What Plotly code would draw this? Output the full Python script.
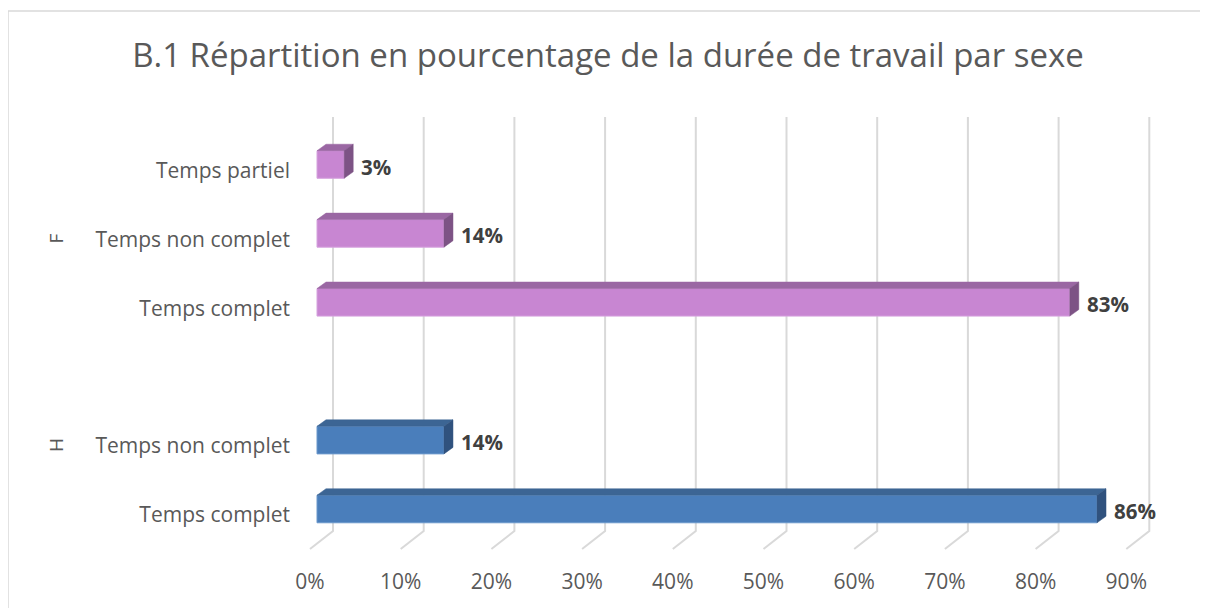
import plotly.graph_objects as go

# ---- data ----
categories = ["Temps complet", "Temps non complet", "Temps complet", "Temps non complet", "Temps partiel"]
groups = ["H", "H", "F", "F", "F"]
positions = [0, 1, 3, 4, 5]
values = [86, 14, 83, 14, 3]
group_labels = ["H", "F"]
group_label_pos = [1, 4]
x_ticks = [0, 10, 20, 30, 40, 50, 60, 70, 80, 90]
x_tick_labels = [f"{t}%" for t in x_ticks]
title = "B.1 Répartition en pourcentage de la durée de travail par sexe"

# ---- style ----
FONT = "Open Sans"
colors = {"H": ("#4a7ebb", "#3c6594", "#30527e", "#6a98cc"),
          "F": ("#c886d2", "#9a67a3", "#7d5385", "#d6a3de")}
OFF = 8                      # page body margin
FW, FH = 1200, 600           # figure size
# target geometry in screenshot pixels
L, R, T, B = 300, 1160, 110, 560
px_per_x = 9.07
px_per_y = 68.9
x0_px, y0_px = 317, 509
xr = [(L - x0_px) / px_per_x, (R - x0_px) / px_per_x]
yr = [(y0_px - B) / px_per_y, (y0_px - T) / px_per_y]

def dx(px):
    return px / px_per_x

def dy(px):
    return px / px_per_y

fig = go.Figure()

bar_h = 0.40
half = bar_h / 2
ddx, ddy = dx(9), dy(6.5)

# 3D faces
for g, p, v in zip(groups, positions, values):
    front, top, side, edge = colors[g]
    fig.add_trace(go.Scatter(
        x=[0, v, v + ddx, ddx, 0], y=[p + half, p + half, p + half + ddy, p + half + ddy, p + half],
        fill="toself", fillcolor=top, mode="lines", line=dict(color=top, width=0.5),
        hoverinfo="skip", showlegend=False))
    fig.add_trace(go.Scatter(
        x=[v, v + ddx, v + ddx, v, v], y=[p - half, p - half + ddy, p + half + ddy, p + half, p - half],
        fill="toself", fillcolor=side, mode="lines", line=dict(color=side, width=0.5),
        hoverinfo="skip", showlegend=False))

# front faces
for g in ["H", "F"]:
    idx = [i for i, gg in enumerate(groups) if gg == g]
    front, top, side, edge = colors[g]
    fig.add_trace(go.Bar(
        x=[values[i] for i in idx], y=[positions[i] for i in idx], orientation="h",
        width=bar_h, marker=dict(color=front, line=dict(color=edge, width=1)),
        showlegend=False, hoverinfo="skip"))

# data labels
for p, v in zip(positions, values):
    fig.add_annotation(x=v, y=p, text=f"<b>{v}%</b>", showarrow=False, xanchor="left",
                       xshift=15, yshift=-2, font=dict(family=FONT, size=20.5, color="#404040"))

# group labels
for gl, gp in zip(group_labels, group_label_pos):
    fig.add_annotation(x=(56 - L) / (R - L), xref="paper", y=gp, yref="y", text=gl,
                       textangle=-90, showarrow=False, yshift=-5, xanchor="center",
                       yanchor="middle", font=dict(family=FONT, size=19, color="#595959"))

# gridlines (back wall + floor)
shapes = []
for t in x_ticks:
    shapes.append(dict(type="path", xref="x", yref="y", layer="below",
                       path=f"M {t + dx(16)} {dy(y0_px - 117)} L {t + dx(16)} {dy(y0_px - 531)} "
                            f"L {t - dx(7)} {dy(y0_px - 549)}",
                       line=dict(color="#d9d9d9", width=2)))
# chart frame
shapes.append(dict(type="rect", xref="paper", yref="paper", layer="below",
                   x0=(8 - L) / (R - L), x1=(1215 - L) / (R - L),
                   y0=(B - 615) / (B - T), y1=(B - 11) / (B - T),
                   line=dict(color="#d9d9d9", width=1.5), fillcolor="rgba(0,0,0,0)"))

fig.update_layout(
    width=FW, height=FH,
    margin=dict(l=L - OFF, r=FW - (R - OFF), t=T - OFF, b=FH - (B - OFF)),
    paper_bgcolor="white", plot_bgcolor="white",
    title=dict(text=title, x=0.5, xanchor="center", xref="container", y=1 - (55 - OFF) / FH,
               yref="container", yanchor="middle",
               font=dict(family=FONT, size=33, color="#595959")),
    xaxis=dict(range=xr, tickvals=[t - dx(7) for t in x_ticks], ticktext=x_tick_labels,
               showgrid=False, zeroline=False, showline=False, ticks="",
               ticklabelstandoff=7, tickfont=dict(family=FONT, size=21, color="#595959")),
    yaxis=dict(range=yr, tickvals=positions, ticktext=categories, showgrid=False, zeroline=False,
               showline=False, ticks="", ticklabelstandoff=9, ticklabelshift=6,
               tickfont=dict(family=FONT, size=21, color="#595959")),
    shapes=shapes,
    barmode="overlay",
)

fig.write_html("out.html")
